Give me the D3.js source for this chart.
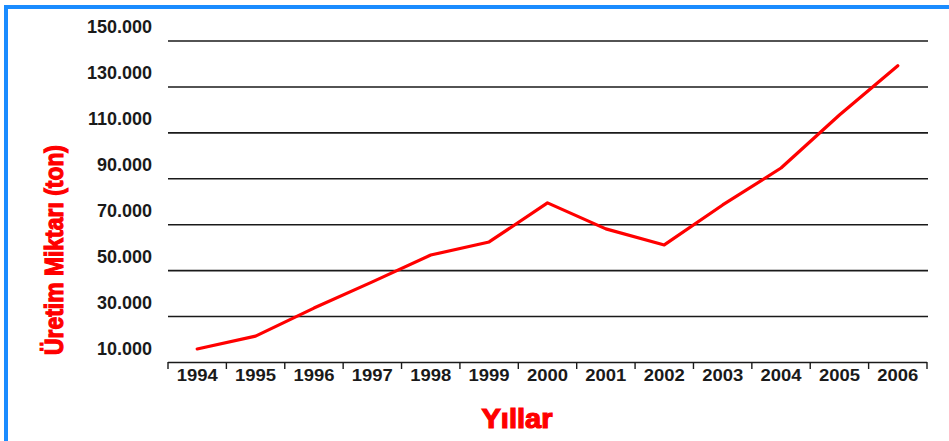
<!DOCTYPE html>
<head>
    <meta charset="utf-8">
    <title>Üretim Miktarı</title>
    <script src="https://d3js.org/d3.v7.min.js"></script>
    <style>
        body { margin: 0; background: white; }
        .tick-label {
            font-family: "Liberation Sans", Arial, sans-serif;
            font-weight: bold;
            fill: #1a1a1a;
        }
        .grid line { stroke: #1a1a1a; stroke-width: 1.6px; }
        .title {
            font-family: "Liberation Sans", Arial, sans-serif;
            font-weight: bold;
            fill: #ff0000;
            stroke: #ff0000;
            stroke-width: 1.2px;
        }
    </style>
</head>
<body>
    <script>
        let years = ["1994", "1995", "1996", "1997", "1998", "1999", "2000",
                     "2001", "2002", "2003", "2004", "2005", "2006"];
        let production = [15900, 21500, 33700, 45100, 56800, 62500, 79500,
                          68200, 61200, 78600, 94700, 117800, 139200];
        let yTicks = [10000, 30000, 50000, 70000, 90000, 110000, 130000, 150000];
        let yTickLabels = ["10.000", "30.000", "50.000", "70.000", "90.000",
                           "110.000", "130.000", "150.000"];

        let svg = d3.select("body").append("svg")
            .attr("width", 949).attr("height", 441);

        // blue frame, only top and left visible
        svg.append("rect")
            .attr("x", 6).attr("y", 7)
            .attr("width", 1000).attr("height", 500)
            .attr("fill", "none")
            .attr("stroke", "#1a8cff")
            .attr("stroke-width", 4);

        let x = d3.scaleBand().domain(years).range([168, 927]);
        let y = d3.scaleLinear().domain([10000, 150000]).range([362.5, 41]);

        // gridlines
        svg.append("g").attr("class", "grid")
            .selectAll("line")
            .data(yTicks.slice(1))
            .enter().append("line")
            .attr("x1", 168).attr("x2", 928)
            .attr("y1", d => y(d)).attr("y2", d => y(d));

        // y labels sit above their lines
        svg.append("g")
            .selectAll("text")
            .data(yTicks)
            .enter().append("text")
            .attr("class", "tick-label")
            .attr("x", 152)
            .attr("y", d => y(d) - 8)
            .attr("text-anchor", "end")
            .style("font-size", "18px")
            .text((d, i) => yTickLabels[i]);

        // x axis: line, ticks at band edges, labels centred
        let xAxis = svg.append("g");
        xAxis.append("line")
            .attr("x1", 168).attr("x2", 927)
            .attr("y1", 362.5).attr("y2", 362.5)
            .attr("stroke", "#1a1a1a").attr("stroke-width", 1.6);
        let edges = years.map(d => x(d)).concat([x.range()[1]]);
        xAxis.selectAll(".tk")
            .data(edges)
            .enter().append("line")
            .attr("class", "tk")
            .attr("x1", d => d).attr("x2", d => d)
            .attr("y1", 362).attr("y2", 369)
            .attr("stroke", "#1a1a1a").attr("stroke-width", 1.4);
        xAxis.selectAll("text")
            .data(years)
            .enter().append("text")
            .attr("class", "tick-label")
            .attr("x", d => x(d) + x.bandwidth() / 2)
            .attr("y", 381)
            .attr("text-anchor", "middle")
            .style("font-size", "16px")
            .attr("textLength", 41)
            .attr("lengthAdjust", "spacingAndGlyphs")
            .text(d => d);

        // line
        let line = d3.line()
            .x((d, i) => x(years[i]) + x.bandwidth() / 2)
            .y(d => y(d));
        svg.append("path")
            .datum(production)
            .attr("d", line)
            .attr("fill", "none")
            .attr("stroke", "#ff0000")
            .attr("stroke-width", 3.2)
            .attr("stroke-linejoin", "round")
            .attr("stroke-linecap", "round");

        // axis titles
        svg.append("text")
            .attr("class", "title")
            .attr("transform", "translate(63,250) rotate(-90)")
            .attr("text-anchor", "middle")
            .style("font-size", "26px")
            .attr("textLength", 210)
            .attr("lengthAdjust", "spacingAndGlyphs")
            .text("Üretim Miktarı (ton)");

        svg.append("text")
            .attr("class", "title")
            .attr("x", 517).attr("y", 428)
            .attr("text-anchor", "middle")
            .style("font-size", "27px")
            .attr("textLength", 71)
            .attr("lengthAdjust", "spacingAndGlyphs")
            .text("Yıllar");
    </script>
</body>
